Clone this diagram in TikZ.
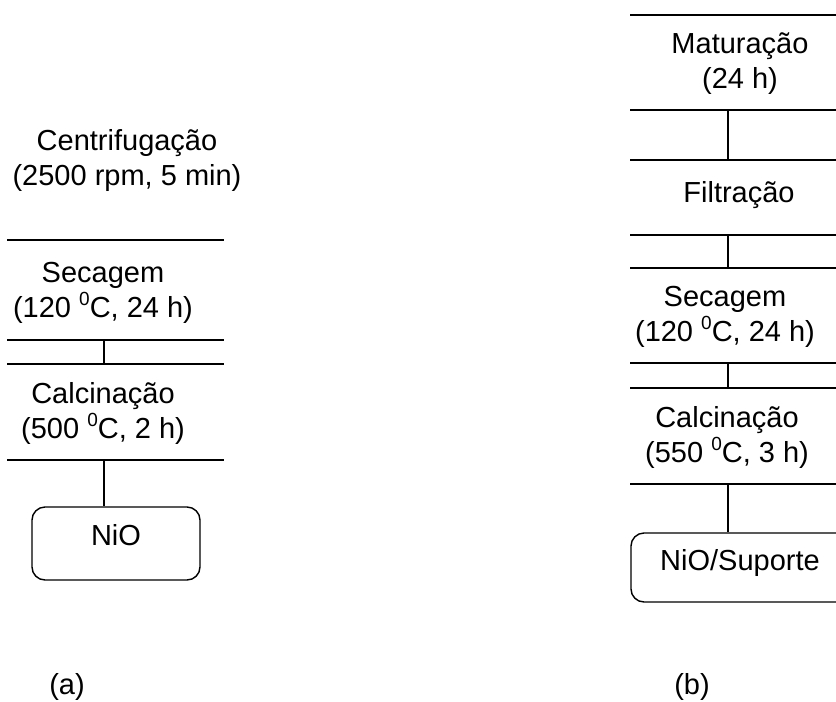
\documentclass[tikz,border=0pt]{standalone}
\usepackage{fontspec}
\setmainfont{Liberation Sans}
\newcommand{\supzero}{\raisebox{12pt}{\fontsize{19}{19}\selectfont 0}}
\begin{document}
\begin{tikzpicture}[x=1pt,y=-1pt,
  rule/.style={line width=1.4pt, black},
  txt/.style={font=\fontsize{29}{35}\selectfont, align=center, inner sep=0pt},
  endbox/.style={draw, line width=1.4pt, rounded corners=13pt, inner xsep=0pt, inner ysep=0pt,
     font=\fontsize{29}{35}\selectfont}]
\useasboundingbox (0,0) rectangle (836,702);
\clip (0,0) rectangle (836,702);

% ---------- panel (a) ----------
\node[txt] (centri) at (127,160.5) {Centrifugação\\(2500 rpm, 5 min)};
\coordinate (a1l) at (7,240);  \coordinate (a1r) at (224,240);
\node[txt] (seca) at (103,292.5) {Secagem\\(120 \supzero C, 24 h)};
\coordinate (a2l) at (7,340);  \coordinate (a2r) at (224,340);
\coordinate (a3l) at (7,364);  \coordinate (a3r) at (224,364);
\node[txt] (calca) at (103,413.5) {Calcinação\\(500 \supzero C, 2 h)};
\coordinate (a4l) at (7,460);  \coordinate (a4r) at (224,460);
\node[endbox, minimum width=168pt, text height=38.4pt, text depth=34.6pt] (nio) at (116,543.5) {NiO};
\coordinate (a2c) at (104,340); \coordinate (a3c) at (104,364); \coordinate (a4c) at (104,460);
\node[txt] (la) at (67,687) {(a)};

\draw[rule] (a1l) -- (a1r);
\draw[rule] (a2l) -- (a2r);
\draw[rule] (a3l) -- (a3r);
\draw[rule] (a4l) -- (a4r);
\draw[rule] (a2c) -- (a3c);
\draw[rule] (a4c) -- (a4c |- nio.north);

% ---------- panel (b) ----------
\coordinate (b1l) at (630,15);  \coordinate (b1r) at (840,15);
\node[txt] (matu) at (740,63.5) {Maturação\\(24 h)};
\coordinate (b2l) at (630,110); \coordinate (b2r) at (840,110);
\coordinate (b3l) at (630,160); \coordinate (b3r) at (840,160);
\node[txt] (filt) at (739,195) {Filtração};
\coordinate (b4l) at (630,235); \coordinate (b4r) at (840,235);
\coordinate (b5l) at (630,268); \coordinate (b5r) at (840,268);
\node[txt] (secb) at (725,317) {Secagem\\(120 \supzero C, 24 h)};
\coordinate (b6l) at (630,363); \coordinate (b6r) at (840,363);
\coordinate (b7l) at (630,388); \coordinate (b7r) at (840,388);
\node[txt] (calcb) at (727,437) {Calcinação\\(550 \supzero C, 3 h)};
\coordinate (b8l) at (630,484); \coordinate (b8r) at (840,484);
\node[endbox, minimum width=218pt, text height=37.4pt, text depth=31.6pt] (nbs) at (740,567.5) {NiO/Suporte};
\node[txt] (lb) at (692,687) {(b)};

\coordinate (b2c) at (728,110); \coordinate (b3c) at (728,160);
\coordinate (b4c) at (728,235); \coordinate (b5c) at (728,268);
\coordinate (b6c) at (728,363); \coordinate (b7c) at (728,388);
\coordinate (b8c) at (728,484);

\foreach \i in {1,...,8} {\draw[rule] (b\i l) -- (b\i r);}
\draw[rule] (b2c) -- (b3c);
\draw[rule] (b4c) -- (b5c);
\draw[rule] (b6c) -- (b7c);
\draw[rule] (b8c) -- (b8c |- nbs.north);
\end{tikzpicture}
\end{document}
